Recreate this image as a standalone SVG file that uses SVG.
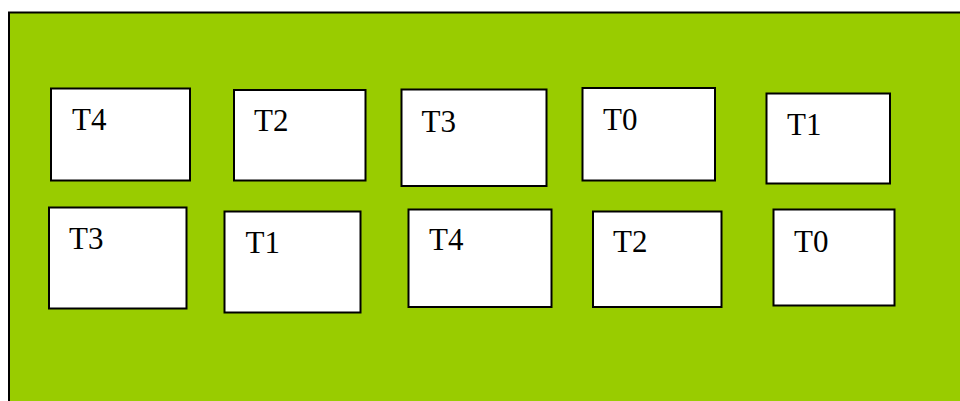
<svg xmlns="http://www.w3.org/2000/svg" width="960" height="401" viewBox="0 0 960 401">
<style>
.bg{fill:#99cc00;stroke:#000;stroke-width:2}
.box{fill:#fff;stroke:#000;stroke-width:2}
.lbl{font-family:"Liberation Serif","Times New Roman",serif;font-size:31px;fill:#000}
</style>
<rect width="960" height="401" fill="#fff"/>
<rect class="bg" x="9" y="12.5" width="960" height="400"/>
<g id="r1-T4"><rect class="box" x="51" y="88.5" width="139" height="92"/><text class="lbl" x="72" y="129.5">T4</text></g>
<g id="r1-T2"><rect class="box" x="234" y="90" width="131.5" height="90.5"/><text class="lbl" x="254" y="131">T2</text></g>
<g id="r1-T3"><rect class="box" x="401.5" y="89.5" width="145" height="96.5"/><text class="lbl" x="421.5" y="131.5">T3</text></g>
<g id="r1-T0"><rect class="box" x="582.5" y="88" width="132.5" height="92.5"/><text class="lbl" x="603" y="129.5">T0</text></g>
<g id="r1-T1"><rect class="box" x="766.5" y="93.5" width="123.5" height="90"/><text class="lbl" x="787" y="134.5">T1</text></g>
<g id="r2-T3"><rect class="box" x="49" y="207.5" width="137.5" height="101"/><text class="lbl" x="69" y="248.5">T3</text></g>
<g id="r2-T1"><rect class="box" x="224.5" y="211.5" width="136" height="101"/><text class="lbl" x="245.5" y="252.5">T1</text></g>
<g id="r2-T4"><rect class="box" x="408.5" y="209.5" width="143" height="97.5"/><text class="lbl" x="429" y="250">T4</text></g>
<g id="r2-T2"><rect class="box" x="593" y="211.5" width="128.5" height="95.5"/><text class="lbl" x="613" y="252">T2</text></g>
<g id="r2-T0"><rect class="box" x="773.5" y="209.5" width="121" height="96"/><text class="lbl" x="794" y="251.5">T0</text></g>
<g id="connectors"></g>
</svg>
